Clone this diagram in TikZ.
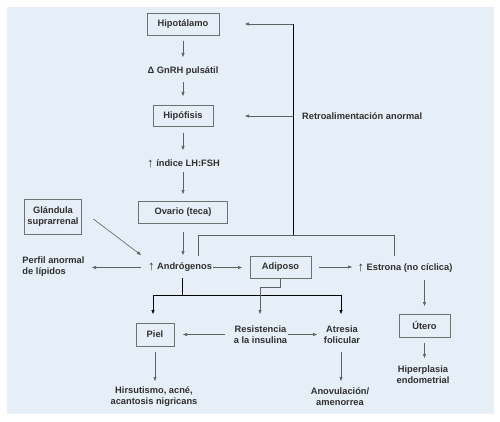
\documentclass[tikz,border=0pt]{standalone}
\usepackage{fontspec}
\setmainfont{Liberation Sans}
\usetikzlibrary{arrows.meta}
\definecolor{bgblue}{HTML}{E6EEF7}
\definecolor{boxline}{HTML}{707070}
\definecolor{lngray}{HTML}{606060}
\definecolor{txt}{HTML}{303030}
\newcommand{\upar}{{\fontsize{13}{11}\selectfont\mdseries\raisebox{-1pt}{↑}}}
\begin{document}
\begin{tikzpicture}[x=1pt,y=-1pt,
  every node/.style={font=\fontsize{9.3}{11}\selectfont\bfseries, text=txt, inner sep=0pt, align=center},
  box/.style={draw=boxline, line width=0.7pt},
  ln/.style={draw=lngray, line width=0.6pt},
  blk/.style={draw=black, line width=0.75pt},
  arr/.style={-{Triangle[length=4pt,width=3pt]}},
  sh/.style 2 args={shorten <=#1pt, shorten >=#2pt}]
\useasboundingbox (0,0) rectangle (500,422);
\fill[bgblue] (7,7) rectangle (494,414);

% nodes
\node[box, minimum width=72pt, minimum height=22pt] (hipo) at (183,24) {Hipotálamo};
\node (gnrh) at (183,71.5) {Δ GnRH pulsátil};
\node[box, minimum width=60pt, minimum height=21pt] (hipof) at (183,116) {Hipófisis};
\node (lhfsh) at (183.5,164) {\upar\ índice LH:FSH};
\node[box, minimum width=89pt, minimum height=22pt] (ovario) at (183,212) {Ovario (teca)};
\node[box, minimum width=57pt, minimum height=35pt] (glandula) at (53,216.5) {Glándula\\suprarrenal};
\node (andro) at (180,267.5) {\upar\ Andrógenos};
\node[align=left] (perfil) at (53.5,267) {Perfil anormal\\de lípidos};
\node[box, minimum width=61pt, minimum height=22pt] (adiposo) at (280.5,267) {Adiposo};
\node (estrona) at (405,268) {\upar\ Estrona (no cíclica)};
\node[anchor=west] (retro) at (302,116) {Retroalimentación anormal};
\node[box, minimum width=38pt, minimum height=23pt] (piel) at (155,334.5) {Piel};
\node (resist) at (260.5,334.5) {Resistencia\\a la insulina};
\node (atresia) at (342,335) {Atresia\\folicular};
\node[box, minimum width=51pt, minimum height=23pt] (utero) at (424.5,325.5) {Útero};
\node (hirsut) at (154,396.5) {Hirsutismo, acné,\\acantosis nigricans};
\node (anov) at (340,396.5) {Anovulación/\\amenorrea};
\node (hiperp) at (423,375) {Hiperplasia\\endometrial};

% bend points
\coordinate (fbL) at (198,235);
\coordinate (fbR) at (394,235);
\coordinate (fbM) at (293,235);
\coordinate (fbT) at (293,24);
\coordinate (fbH) at (293,116);
\coordinate (brA) at (182,295);
\coordinate (brL) at (153,295);
\coordinate (brR) at (341,295);
\coordinate (adB) at (260,287);

% main chain
\draw[ln, arr, sh={17}{14.5}] (hipo.center) -- (gnrh.center);
\draw[ln, arr, sh={10.5}{20}] (gnrh.center) -- (hipof.center);
\draw[ln, arr, sh={17}{14}] (hipof.center) -- (hipof.center |- lhfsh.center);
\draw[ln, arr, sh={8}{18}] (hipof.center |- lhfsh.center) -- (ovario.center);
\draw[ln, arr, sh={20}{12.5}] (ovario.center) -- (ovario.center |- andro.center);
\draw[ln, arr] ([shift={(11.5,2.5)}]glandula.east) -- ([shift={(-39,-12.5)}]andro.center);
\draw[ln, arr, sh={39}{38.5}] (andro.center) -- (andro.center -| perfil.center);
\draw[ln, arr, sh={33}{38.5}] (andro.center) -- (andro.center -| adiposo.center);
\draw[ln, arr, sh={38.5}{53}] (adiposo.center) -- (adiposo.center -| estrona.center);
\draw[ln, arr, sh={12}{19.5}] (utero.center |- estrona.center) -- (utero.center);
\draw[ln, arr, sh={17.5}{17}] (utero.center) -- (utero.center |- hiperp.center);

% feedback
\draw[ln, sh={11.5}{12}] (andro.center -| fbL) -- (fbL) -- (fbR) -- (estrona.center -| fbR);
\draw[blk] (fbM) -- (fbT);
\draw[ln, arr, shorten >=62pt] (fbT) -- (hipo.center);
\draw[ln, arr, shorten >=62pt] (fbH) -- (hipof.center);

% lower branches
\draw[blk, shorten <=10.5pt] (andro.center -| brA) -- (brA);
\draw[blk] (brL) -- (brR);
\draw[blk, arr, shorten >=20.5pt] (brL) -- (piel.center -| brL);
\draw[blk, arr, shorten >=21pt] (brR) -- (atresia.center -| brR);
\draw[ln, arr, shorten >=20.5pt] (adiposo.south) |- (adB) -- (resist.center -| adB);
\draw[ln, arr, sh={35.5}{28}] (resist.center) -- (piel.center);
\draw[ln, arr, sh={27.5}{25}] (resist.center) -- (atresia.center |- resist.center);
\draw[ln, arr, sh={17.5}{15.5}] (piel.center) -- (piel.center |- hirsut.center);
\draw[ln, arr, sh={17}{15.5}] (brR |- atresia.center) -- (brR |- anov.center);
\end{tikzpicture}
\end{document}
